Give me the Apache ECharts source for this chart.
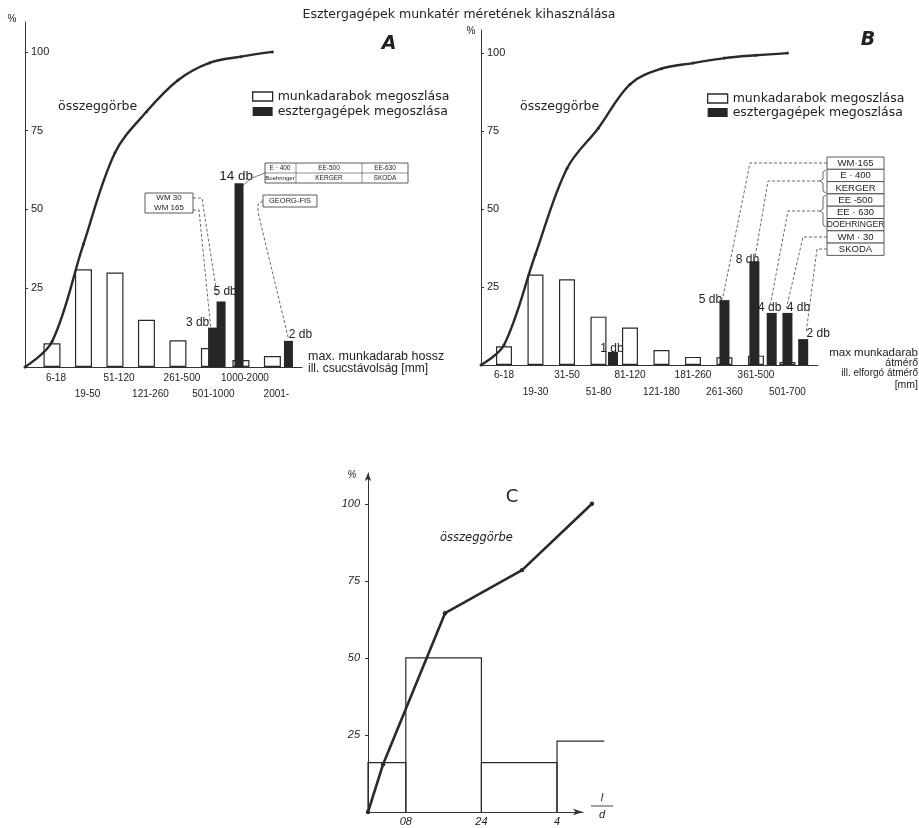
<!DOCTYPE html>
<html><head><meta charset="utf-8">
<script src="https://cdn.jsdelivr.net/npm/echarts@6.0.0/dist/echarts.min.js"></script>
<style>html,body{margin:0;padding:0;background:#fff}#c{width:919px;height:828px}</style>
</head><body><div id="c"></div>
<script>
// ---------- Panel A : max. munkadarab hossz ----------
const catsA = ['6-18','19-50','51-120','121-260','261-500','501-1000','1000-2000','2001-'];
const workA = [7.5, 31, 30, 15, 8.5, 6, 2.2, 3.5];          // munkadarabok megoszlása %
const cumA  = [8, 39, 68, 81, 91, 96.5, 98.5, 100];          // összeggörbe at category centres
const machPosA   = [5.1, 5.37, 5.94, 7.51];                  // machine bars, in category units
const machPctA   = [12.5, 20.8, 58.3, 8.3];
const machCountA = [3, 5, 14, 2];

// ---------- Panel B : max. munkadarab átmérő ----------
const catsB = ['6-18','19-30','31-50','51-80','81-120','121-180','181-260','261-360','361-500','501-700'];
const workB = [6, 29, 27.5, 15.5, 12, 4.8, 2.6, 2.5, 3, 1];
const cumB  = [6.4, 35.5, 63, 76, 90, 95, 96.8, 98.4, 99.3, 100];
const machPosB   = [3.46, 7.0, 7.95, 8.5, 9.0, 9.5];
const machPctB   = [4.2, 20.8, 33.3, 16.7, 16.7, 8.3];
const machCountB = [1, 5, 8, 4, 4, 2];

// ---------- Panel C : l/d ----------
const binEdgesC  = [0, 0.8, 2.4, 4, 5];
const binValuesC = [16, 50, 16, 23];
const cumXC = [0, 0.32, 1.63, 3.26, 4.74];
const cumYC = [0, 15.5, 64.5, 78.5, 100];
const xTicksC = [0.8, 2.4, 4];
const xTickLabelsC = ['08', '24', '4'];

// ---------- shared ----------
const yTicks = [25, 50, 75, 100];
const yTickLabels = ['25', '50', '75', '100'];
const nameWork = 'munkadarabok megoszlása';
const nameMach = 'esztergagépek megoszlása';

// layout (not data)
const A_XMIN = -0.857, A_XMAX = 7.94, A_YMAX = 109.5;
const B_XMIN = -0.73,  B_XMAX = 9.97, B_YMAX = 107.4;
const C_XMAX = 4.55,   C_YMAX = 110;
const dbOffA = [[-15, 4], [4, -1], [-3, 3], [12, 3]];
const dbOffB = [[-1, 6], [-14, 9], [-7, 8], [-2, 4], [11, 4], [15, 4]];

const INK = '#262626';
const FONT = 'Liberation Sans';
const DFONT = 'DejaVu Sans';

function nearestLabel(v, vals, labels) {
  let bi = 0, bd = Infinity;
  vals.forEach((t, i) => { const d = Math.abs(t - v); if (d < bd) { bd = d; bi = i; } });
  return bd < 1e-6 ? labels[bi] : '';
}
// category labels are split over two bottom axes of the same grid: even ones on the first row, odd ones on the second
function catAxis(grid, min, max, cats, parity, margin, pad) {
  const idx = cats.map((_, i) => i).filter(i => i % 2 === parity);
  return {
    type: 'value', gridIndex: grid, position: 'bottom', min: min, max: max,
    splitLine: { show: false },
    axisLine: { show: parity === 0, onZero: false, lineStyle: { color: '#333', width: 1 } },
    axisTick: { show: false },
    axisLabel: {
      customValues: idx, showMinLabel: true, showMaxLabel: true, hideOverlap: false,
      formatter: v => cats[Math.round(v)] || '',
      fontFamily: FONT, fontSize: 10, margin: margin, color: '#222', padding: pad
    }
  };
}
function pctAxis(grid, max) {
  return {
    type: 'value', gridIndex: grid, position: 'left', min: 0, max: max,
    splitLine: { show: false },
    axisLine: { show: true, onZero: false, lineStyle: { color: '#333', width: 1 } },
    axisTick: { show: true, inside: true, length: 3, customValues: yTicks, lineStyle: { color: '#333' } },
    axisLabel: {
      inside: true, margin: 6, customValues: yTicks, showMaxLabel: true,
      formatter: v => nearestLabel(v, yTicks, yTickLabels),
      fontFamily: FONT, fontSize: 11, color: '#222'
    }
  };
}
function workSeries(xi, yi, vals, w) {
  return {
    name: nameWork, type: 'bar', xAxisIndex: xi, yAxisIndex: yi, barWidth: w,
    data: vals.map((v, i) => [i, v]),
    itemStyle: { color: '#fff', borderColor: '#2a2a2a', borderWidth: 1.2 }, z: 2
  };
}
function machSeries(xi, yi, pos, pct, cnt, offs, w, big) {
  return {
    name: nameMach, type: 'bar', xAxisIndex: xi, yAxisIndex: yi, barWidth: w,
    data: pos.map((p, i) => ({ value: [p, pct[i]], label: { offset: offs[i], fontSize: cnt[i] === big ? 13.5 : 12 } })),
    itemStyle: { color: INK }, z: 3,
    label: { show: true, position: 'top', distance: 3, formatter: p => cnt[p.dataIndex] + ' db',
             fontFamily: FONT, fontSize: 12, color: '#222' }
  };
}
function cumSeries(xi, yi, xmin, vals) {
  return {
    type: 'line', xAxisIndex: xi, yAxisIndex: yi, clip: false, z: 4,
    data: [[xmin, 0]].concat(vals.map((v, i) => [i, v])),
    smooth: 0.35, symbol: 'circle', symbolSize: 3, showSymbol: true,
    lineStyle: { color: '#2a2a2a', width: 2.4 }, itemStyle: { color: '#2a2a2a' }
  };
}
const legendItems = [
  { name: nameWork, itemStyle: { color: '#fff', borderColor: '#2a2a2a', borderWidth: 1.3 } },
  { name: nameMach, itemStyle: { color: INK } }
];

const option = {
  animation: false,
  backgroundColor: '#fff',
  textStyle: { fontFamily: FONT, color: '#222' },
  grid: [
    { left: 25, top: 22, width: 277, height: 345, outerBoundsMode: 'none', containLabel: false },
    { left: 481, top: 30, width: 337, height: 335, outerBoundsMode: 'none', containLabel: false },
    { left: 368, top: 473, width: 215, height: 339, outerBoundsMode: 'none', containLabel: false }
  ],
  legend: [
    { left: 247, top: 85, orient: 'vertical', itemWidth: 20, itemHeight: 9, itemGap: 2, icon: 'rect',
      selectedMode: false, textStyle: { fontFamily: DFONT, fontSize: 12.5, color: '#222' }, data: legendItems },
    { left: 702, top: 87, orient: 'vertical', itemWidth: 20, itemHeight: 9, itemGap: 1, icon: 'rect',
      selectedMode: false, textStyle: { fontFamily: DFONT, fontSize: 12.5, color: '#222' }, data: legendItems }
  ],
  xAxis: [
    catAxis(0, A_XMIN, A_XMAX, catsA, 0, 6, [0, 0, 0, 8]),
    catAxis(0, A_XMIN, A_XMAX, catsA, 1, 22, [0, 0, 0, 8]),
    catAxis(1, B_XMIN, B_XMAX, catsB, 0, 5, [0, 0, 0, 0]),
    catAxis(1, B_XMIN, B_XMAX, catsB, 1, 22, [0, 0, 0, 0]),
    {
      type: 'value', gridIndex: 2, position: 'bottom', min: 0, max: C_XMAX, splitLine: { show: false },
      axisLine: { show: true, onZero: false, symbol: ['none', 'arrow'], symbolSize: [5, 10], lineStyle: { color: '#333', width: 1 } },
      axisTick: { show: false },
      axisLabel: { customValues: xTicksC, formatter: v => nearestLabel(v, xTicksC, xTickLabelsC),
                   fontFamily: FONT, fontStyle: 'italic', fontSize: 11, margin: 4, color: '#222' }
    }
  ],
  yAxis: [
    pctAxis(0, A_YMAX),
    pctAxis(1, B_YMAX),
    {
      type: 'value', gridIndex: 2, position: 'left', min: 0, max: C_YMAX, splitLine: { show: false },
      axisLine: { show: true, onZero: false, symbol: ['none', 'arrow'], symbolSize: [5, 8], lineStyle: { color: '#333', width: 1 } },
      axisTick: { show: true, length: 3, customValues: yTicks, lineStyle: { color: '#333' } },
      axisLabel: { customValues: yTicks, formatter: v => nearestLabel(v, yTicks, yTickLabels),
                   fontFamily: FONT, fontStyle: 'italic', fontSize: 11, margin: 8, color: '#222' }
    }
  ],
  series: [
    workSeries(0, 0, workA, 17),
    machSeries(1, 0, machPosA, machPctA, machCountA, dbOffA, 9, 14),
    cumSeries(1, 0, A_XMIN, cumA),
    workSeries(2, 1, workB, 16),
    machSeries(3, 1, machPosB, machPctB, machCountB, dbOffB, 10, -1),
    cumSeries(3, 1, B_XMIN, cumB),
    {
      type: 'custom', xAxisIndex: 4, yAxisIndex: 2, clip: false, z: 2,
      data: binValuesC.map((v, i) => [binEdgesC[i], binEdgesC[i + 1], v]),
      encode: { x: [0, 1], y: 2 },
      renderItem: (params, api) => {
        const x0 = api.value(0), x1 = api.value(1), h = api.value(2);
        const pts = [api.coord([x0, 0]), api.coord([x0, h]), api.coord([x1, h])];
        if (params.dataIndex < binValuesC.length - 1) pts.push(api.coord([x1, 0]));
        return { type: 'polyline', shape: { points: pts }, style: { stroke: '#2a2a2a', lineWidth: 1.2, fill: null } };
      }
    },
    {
      // összeggörbe C: drawn segment by segment so the last point may sit past the axis arrow
      type: 'custom', xAxisIndex: 4, yAxisIndex: 2, clip: false, z: 4,
      data: cumXC.map((x, i) => [x, cumYC[i]]),
      encode: { x: 0, y: 1 },
      renderItem: (params, api) => {
        const i = params.dataIndex;
        const p = api.coord([api.value(0), api.value(1)]);
        const children = [{ type: 'circle', shape: { cx: p[0], cy: p[1], r: 2.2 }, style: { fill: '#2a2a2a' } }];
        if (i > 0) {
          const q = api.coord([cumXC[i - 1], cumYC[i - 1]]);
          children.push({ type: 'line', shape: { x1: q[0], y1: q[1], x2: p[0], y2: p[1] },
                          style: { stroke: '#2a2a2a', lineWidth: 2.6, lineCap: 'round' } });
        }
        return { type: 'group', children: children };
      }
    }
  ]
};

const chart = echarts.init(document.getElementById('c'), null, { renderer: 'canvas' });
chart.setOption(option);

// ---------- annotations ----------
function txt(x, y, text, st) {
  return { type: 'text', x: x, y: y, silent: true, z: 10,
    style: Object.assign({ text: text, fill: '#222', fontSize: 12, fontFamily: FONT, align: 'left', verticalAlign: 'middle' }, st || {}) };
}
function poly(points, dashed, w) {
  return { type: 'polyline', silent: true, z: 9, shape: { points: points },
    style: { stroke: '#444', lineWidth: w || 0.8, lineDash: dashed ? [3, 2] : null, fill: null } };
}
function box(x, y, w, h) {
  return { type: 'rect', silent: true, z: 9, shape: { x: x, y: y, width: w, height: h },
    style: { fill: '#fff', stroke: '#333', lineWidth: 0.8 } };
}
function barTop(xi, yi, x, y) { return chart.convertToPixel({ xAxisIndex: xi, yAxisIndex: yi }, [x, y]); }

const g = [];
g.push(txt(459, 15, 'Esztergagépek munkatér méretének kihasználása', { align: 'center', fontFamily: DFONT, fontSize: 12.5 }));
g.push(txt(389, 44, 'A', { align: 'center', fontFamily: DFONT, fontSize: 19, fontWeight: 'bold', fontStyle: 'italic' }));
g.push(txt(868, 40, 'B', { align: 'center', fontFamily: DFONT, fontSize: 19, fontWeight: 'bold', fontStyle: 'italic' }));
g.push(txt(512, 497, 'C', { align: 'center', fontFamily: DFONT, fontSize: 18 }));
g.push(txt(58, 107, 'összeggörbe', { fontFamily: DFONT, fontSize: 12.5 }));
g.push(txt(520, 107, 'összeggörbe', { fontFamily: DFONT, fontSize: 12.5 }));
g.push(txt(440, 538, 'összeggörbe', { fontFamily: DFONT, fontSize: 11.5, fontStyle: 'italic' }));
g.push(txt(12, 19, '%', { align: 'center', fontSize: 10 }));
g.push(txt(471, 31, '%', { align: 'center', fontSize: 10 }));
g.push(txt(352, 475, '%', { align: 'center', fontSize: 10, fontStyle: 'italic' }));
// axis titles
g.push(txt(308, 357, 'max. munkadarab hossz', { fontSize: 12.5 }));
g.push(txt(308, 369, 'ill. csucstávolság [mm]', { fontSize: 12 }));
g.push(txt(918, 353, 'max munkadarab', { align: 'right', fontSize: 11.5 }));
g.push(txt(918, 363, 'átmérő', { align: 'right', fontSize: 10.5 }));
g.push(txt(918, 373, 'ill. elforgó átmérő', { align: 'right', fontSize: 10 }));
g.push(txt(918, 385, '[mm]', { align: 'right', fontSize: 10.5 }));
// C: l/d
g.push(txt(602, 798, 'l', { align: 'center', fontSize: 11, fontStyle: 'italic' }));
g.push(poly([[591, 806], [613, 806]], false, 1));
g.push(txt(602, 815, 'd', { align: 'center', fontSize: 11, fontStyle: 'italic' }));

// A: machine boxes
g.push(box(265, 163, 143, 20));
g.push(poly([[265, 173], [408, 173]], false, 0.6));
g.push(poly([[296, 163], [296, 183]], false, 0.6));
g.push(poly([[362, 163], [362, 183]], false, 0.6));
g.push(txt(280, 168, 'E · 400', { align: 'center', fontSize: 6.5 }));
g.push(txt(280, 178, 'Boehringer', { align: 'center', fontSize: 6 }));
g.push(txt(329, 168, 'EE-500', { align: 'center', fontSize: 6.5 }));
g.push(txt(329, 178, 'KERGER', { align: 'center', fontSize: 6.5 }));
g.push(txt(385, 168, 'EE-630', { align: 'center', fontSize: 6.5 }));
g.push(txt(385, 178, 'SKODA', { align: 'center', fontSize: 6.5 }));
g.push(box(145, 193, 48, 20));
g.push(txt(169, 198, 'WM 30', { align: 'center', fontSize: 8 }));
g.push(txt(169, 208, 'WM 165', { align: 'center', fontSize: 8 }));
g.push(box(263, 195, 54, 12));
g.push(txt(290, 201, 'GEORG-FIS', { align: 'center', fontSize: 7.5 }));

const tA = machPosA.map((p, i) => barTop(1, 0, p, machPctA[i]));
g.push(poly([[193, 198], [202, 198], [tA[1][0] - 4, tA[1][1] - 6]], true));
g.push(poly([[193, 210], [199, 210], [tA[0][0] - 2, tA[0][1] - 1]], true));
g.push(poly([[tA[2][0] + 4, tA[2][1] + 2], [252, 178], [265, 173]], false, 0.7));
g.push(poly([[263, 201], [258, 204], [258, 212], [tA[3][0], tA[3][1] - 2]], true));

// B: machine boxes
const rowsB = ['WM·165', 'E · 400', 'KERGER', 'EE -500', 'EE · 630', 'DOEHRINGER', 'WM · 30', 'SKODA'];
rowsB.forEach((r, i) => {
  const y = 157 + i * 12.3;
  g.push(box(827, y, 57, 12.3));
  g.push(txt(855.5, y + 6.4, r, { align: 'center', fontSize: r.length > 8 ? 8.5 : 9.5 }));
});
g.push(poly([[826, 170], [823, 172], [823, 179], [820, 181], [823, 183], [823, 191], [826, 193]], false, 0.8));
g.push(poly([[826, 195], [823, 197], [823, 209], [820, 211], [823, 213], [823, 225], [826, 227]], false, 0.8));
const tB = machPosB.map((p, i) => barTop(3, 1, p, machPctB[i]));
g.push(poly([[827, 163], [750, 163], [tB[1][0] - 2, tB[1][1] - 1]], true));
g.push(poly([[820, 181], [768, 181], [tB[2][0], tB[2][1]]], true));
g.push(poly([[820, 211], [788, 211], [tB[3][0] - 2, tB[3][1] - 5]], true));
g.push(poly([[827, 237], [803, 237], [tB[4][0] - 1, tB[4][1] - 5]], true));
g.push(poly([[827, 249], [817, 249], [tB[5][0] + 3, tB[5][1] - 7]], true));

chart.setOption({ graphic: g });
</script>
</body></html>
